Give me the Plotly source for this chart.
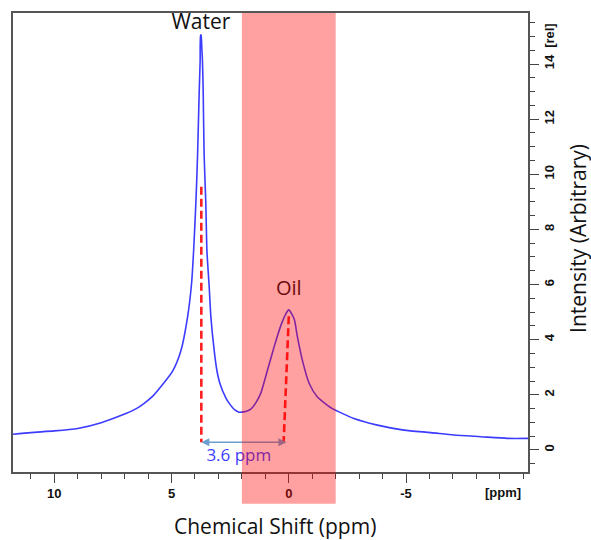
import plotly.graph_objects as go

# ---------------- data ----------------
ppm = [11.76, 11.0, 10.0, 9.0, 8.0, 7.0, 6.5, 6.18, 5.8, 5.45, 4.96, 4.6, 4.32, 4.15,
       4.06, 3.96, 3.89, 3.82, 3.78, 3.76, 3.74, 3.71, 3.68, 3.65, 3.61, 3.54, 3.49,
       3.40, 3.32, 3.18, 3.07, 2.94, 2.68, 2.54, 2.30, 2.13, 1.92, 1.70, 1.55, 1.37, 1.19,
       0.91, 0.63, 0.34, 0.13, 0.0, -0.23, -0.37, -0.58, -0.87, -1.22, -1.65, -1.86,
       -2.14, -2.78, -3.78, -4.91, -6.05, -7.04, -8.18, -9.32, -10.2]
intensity = [0.57, 0.63, 0.69, 0.78, 0.99, 1.30, 1.50, 1.68, 1.95, 2.30, 2.85, 3.6, 4.8, 6.0,
             7.2, 9.0, 10.7, 13.0, 14.1, 15.05, 15.05, 14.6, 14.08, 13.0, 10.7, 9.0, 7.2,
             6.0, 4.8, 3.6, 2.9, 2.42, 1.88, 1.69, 1.45, 1.37, 1.38, 1.44, 1.54, 1.76, 2.07,
             2.89, 3.73, 4.51, 4.93, 5.08, 4.75, 4.09, 3.25, 2.41, 1.92, 1.62, 1.50,
             1.38, 1.14, 0.90, 0.72, 0.63, 0.54, 0.48, 0.42, 0.42]

x_ticks = [10, 5, 0, -5]
x_ticktext = ["10", "5", "0", "-5"]
y_ticks = [0, 2, 4, 6, 8, 10, 12, 14]

band = [2.0, -2.0]                # highlighted oil region (ppm)
water_peak = [3.73, 9.55]         # dashed line top (ppm, intensity)
oil_peak_top = [0.0, 4.85]
oil_peak_bottom = [0.22, 0.28]
arrow_y = 0.28
arrow_x = [3.73, 0.1]
labels = ["Water", "Oil", "3.6 ppm"]
label_x = [3.75, 0.0, 2.13]
label_y = [15.45, 5.82, -0.25]

# ---------------- layout geometry ----------------
W, H = 591, 540
ML, MR, MT, MB = 12, 63, 11, 68
x_range = [11.76, -10.2]
y_range = [-0.8, 15.85]
pw, ph = W - ML - MR, H - MT - MB
px_x = pw / (x_range[0] - x_range[1])
px_y = ph / (y_range[1] - y_range[0])

fig = go.Figure()
fig.add_trace(go.Scatter(x=ppm, y=intensity, mode="lines",
                         line=dict(color="#3c3cff", width=1.6, shape="spline", smoothing=0.6),
                         hoverinfo="skip", showlegend=False))

# text labels as traces so the translucent band sits on top of them
fig.add_trace(go.Scatter(x=[label_x[0]], y=[label_y[0]], mode="text", text=[labels[0]],
                         textfont=dict(family="Open Sans", size=21, color="#111111"),
                         showlegend=False, cliponaxis=False, hoverinfo="skip"))
fig.add_trace(go.Scatter(x=[label_x[1]], y=[label_y[1]], mode="text", text=[labels[1]],
                         textfont=dict(family="Open Sans", size=20, color="#111111"),
                         showlegend=False, cliponaxis=False, hoverinfo="skip"))
fig.add_trace(go.Scatter(x=[label_x[2]], y=[label_y[2]], mode="text", text=[labels[2]],
                         textfont=dict(family="Open Sans", size=17, color="#3c3cff"),
                         showlegend=False, cliponaxis=False, hoverinfo="skip"))

shapes = []
dash = dict(color="#ff2020", width=2.6, dash="8px,4px")
shapes.append(dict(type="line", xref="x", yref="y", x0=water_peak[0], y0=water_peak[1],
                   x1=water_peak[0], y1=arrow_y, line=dash, layer="above"))
shapes.append(dict(type="line", xref="x", yref="y", x0=oil_peak_top[0], y0=oil_peak_top[1],
                   x1=oil_peak_bottom[0], y1=oil_peak_bottom[1], line=dash, layer="above"))

arrow_col = "#6a9fd0"
L, hw = 8 / px_x, 4 / px_y
shapes.append(dict(type="line", xref="x", yref="y", x0=arrow_x[0] - L * 0.5, y0=arrow_y,
                   x1=arrow_x[1] + L * 0.5, y1=arrow_y,
                   line=dict(color=arrow_col, width=1.6), layer="above"))
for tip, base in [(arrow_x[0], arrow_x[0] - L), (arrow_x[1], arrow_x[1] + L)]:
    shapes.append(dict(type="path", xref="x", yref="y",
                       path=f"M {tip},{arrow_y} L {base},{arrow_y + hw} L {base},{arrow_y - hw} Z",
                       fillcolor=arrow_col, line=dict(width=0), layer="above"))

# translucent red band (drawn last: on top)
shapes.append(dict(type="rect", xref="x", yref="paper", x0=band[0], x1=band[1],
                   y0=-(504 - (H - MB)) / ph, y1=1,
                   fillcolor="rgba(255,0,0,0.37)", line=dict(width=0), layer="above"))

tickfont = dict(family="Liberation Sans", size=13, color="#111111", weight="bold")

fig.update_layout(
    width=W, height=H, margin=dict(l=ML, r=MR, t=MT, b=MB),
    paper_bgcolor="white", plot_bgcolor="white",
    shapes=shapes, showlegend=False,
    xaxis=dict(range=x_range, tickvals=x_ticks, ticktext=x_ticktext,
               ticks="outside", ticklen=9, tickwidth=1.2, tickcolor="#444",
               showline=True, linecolor="#555", linewidth=1.6, mirror=True,
               showgrid=False, zeroline=False, tickfont=tickfont,
               minor=dict(dtick=1, ticks="outside", ticklen=5, tickcolor="#444", tickwidth=1.2,
                          showgrid=False)),
    yaxis=dict(range=y_range, side="right", tickvals=y_ticks, tickangle=-90,
               ticks="outside", ticklen=9, tickwidth=1.2, tickcolor="#444",
               showline=True, linecolor="#555", linewidth=1.6, mirror=True,
               showgrid=False, zeroline=False, tickfont=tickfont,
               minor=dict(dtick=0.5, ticks="outside", ticklen=5, tickcolor="#444", tickwidth=1.2,
                          showgrid=False)),
    annotations=[
        dict(text="Chemical Shift (ppm)", xref="paper", yref="paper",
             x=(275 - ML) / pw, y=((H - MB) - 526) / ph, showarrow=False,
             xanchor="center", yanchor="middle",
             font=dict(family="Open Sans", size=21, color="#111111")),
        dict(text="Intensity (Arbitrary)", xref="paper", yref="paper",
             x=(578 - ML) / pw, y=((H - MB) - 237) / ph, showarrow=False, textangle=-90,
             xanchor="center", yanchor="middle",
             font=dict(family="Open Sans", size=21, color="#111111")),
        dict(text="[ppm]", xref="paper", yref="paper",
             x=(503 - ML) / pw, y=((H - MB) - 493) / ph, showarrow=False,
             xanchor="center", yanchor="middle", font=tickfont),
        dict(text="[rel]", xref="paper", yref="paper",
             x=(550 - ML) / pw, y=((H - MB) - 33) / ph, showarrow=False, textangle=-90,
             xanchor="center", yanchor="middle", font=tickfont),
    ],
)

fig.write_html("out.html", config={"displayModeBar": False},
               post_script="document.body.style.margin='0';document.body.style.padding='0';")
